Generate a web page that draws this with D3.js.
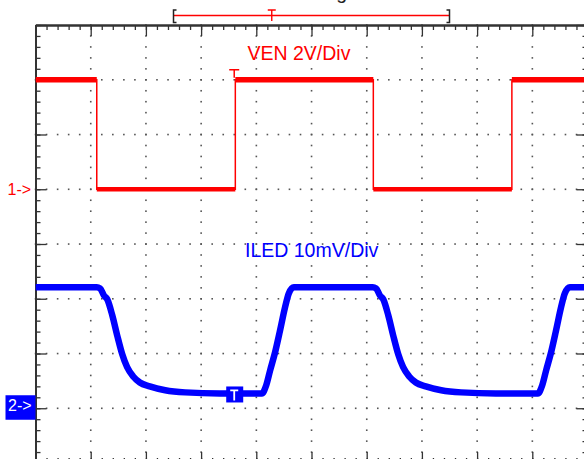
<!DOCTYPE html>
<html>
<head>
<meta charset="utf-8">
<script src="https://cdn.jsdelivr.net/npm/d3@7"></script>
<style>
html,body{margin:0;padding:0;background:#fff;}
svg{display:block;font-family:"Liberation Sans",Arial,sans-serif;}
</style>
</head>
<body>
<svg id="chart" width="584" height="459"></svg>
<script>
// ---- data (time in divisions, 10 div across) ----
const venTime  = [0, 1.11, 1.11, 3.62, 3.62, 6.12, 6.12, 8.63, 8.63, 10];
const venVolts = [4, 4, 0, 0, 4, 4, 0, 0, 4, 4];

const iledTime = [0, 1.11, 1.17, 1.24, 1.30, 1.39, 1.48, 1.57, 1.66, 1.77, 1.89, 2.07, 2.35, 2.71, 3.34,
                  4.10, 4.18, 4.25, 4.34, 4.43, 4.52, 4.59, 4.68,
                  6.11, 6.17, 6.24, 6.30, 6.39, 6.48, 6.57, 6.66, 6.77, 6.89, 7.07, 7.35, 7.71, 8.34,
                  9.10, 9.18, 9.25, 9.34, 9.43, 9.52, 9.59, 9.68, 10];
const iledMv   = [22.1, 22.1, 21.9, 20.6, 19.9, 17.0, 13.3, 9.9, 7.5, 5.8, 4.7, 4.0, 3.3, 2.9, 2.7,
                  2.7, 4.2, 6.9, 10.2, 14.2, 18.4, 21.0, 22.1,
                  22.1, 21.9, 20.6, 19.9, 17.0, 13.3, 9.9, 7.5, 5.8, 4.7, 4.0, 3.3, 2.9, 2.7,
                  2.7, 4.2, 6.9, 10.2, 14.2, 18.4, 21.0, 22.1, 22.1];

const ch1Label = "VEN 2V/Div";
const ch2Label = "ILED 10mV/Div";
const ch1Marker = "1->";
const ch2Marker = "2->";
const titleText = "PWM Dimming";
const ch1Offset = 1, ch1Scale = 2;     // div, V/div
const ch2Offset = -3, ch2Scale = 10;   // div, mV/div
const triggerTime = 3.6;
const bracketStart = 2.5, bracketT = 4.28, bracketEnd = 7.5;

// ---- scales ----
const x = d3.scaleLinear().domain([0, 10]).range([35.5, 587.5]);
const y = d3.scaleLinear().domain([-4, 4]).range([463, 25]);
const xMajor = d3.range(0, 11, 1);
const xMinor = d3.range(0, 10.01, 0.2);
const yMajor = d3.range(-4, 5, 1);
const yMinor = d3.range(-4, 4.01, 0.2);

const svg = d3.select("#chart");

// grid dots
const dots = svg.append("g").attr("fill", "#555");
xMajor.slice(1, 10).forEach(k => {
  yMinor.forEach(v => dots.append("rect").attr("x", x(k) - 0.75).attr("y", y(v) - 0.75).attr("width", 1.6).attr("height", 1.6));
});
yMajor.slice(1, 8).forEach(j => {
  xMinor.forEach(t => dots.append("rect").attr("x", x(t) - 0.75).attr("y", y(j) - 0.75).attr("width", 1.6).attr("height", 1.6));
});

// borders with ticks
function styleAxis(g) {
  g.select(".domain").attr("stroke", "#333").attr("stroke-width", 2);
  g.selectAll(".tick line").attr("stroke", "#333").attr("stroke-width", 1.3);
  g.selectAll("text").remove();
}
const borders = [
  [d3.axisBottom, x, xMinor, xMajor, `translate(0,${y(4)})`],
  [d3.axisTop, x, xMinor, xMajor, `translate(0,${y(-4)})`],
  [d3.axisRight, y, yMinor, yMajor, `translate(${x(0)},0)`],
  [d3.axisLeft, y, yMinor, yMajor, `translate(${x(10)},0)`]
];
borders.forEach(([fn, sc, minor, major, tr]) => {
  svg.append("g").attr("transform", tr).call(fn(sc).tickValues(minor).tickSize(5).tickSizeOuter(0)).call(styleAxis);
  svg.append("g").attr("transform", tr).call(fn(sc).tickValues(major).tickSize(11).tickSizeOuter(0)).call(styleAxis);
});

// clip
svg.append("clipPath").attr("id", "plot").append("rect")
  .attr("x", x(0)).attr("y", y(4)).attr("width", x(10) - x(0)).attr("height", y(-4) - y(4));

// channel 1 (VEN)
const venPts = venTime.map((t, i) => [t, ch1Offset + venVolts[i] / ch1Scale]);
const line = d3.line().x(d => x(d[0])).y(d => y(d[1]));
const trace = svg.append("g").attr("clip-path", "url(#plot)");
trace.append("path").datum(venPts).attr("d", line).attr("fill", "none").attr("stroke", "#ff0000").attr("stroke-width", 1.5);
for (let i = 0; i < venPts.length - 1; i++) {
  if (venVolts[i] === venVolts[i + 1]) {
    trace.append("path").datum([venPts[i], venPts[i + 1]]).attr("d", line)
      .attr("fill", "none").attr("stroke", "#ff0000").attr("stroke-width", venVolts[i] > 0 ? 5.5 : 4.5);
  }
}

// channel 2 (ILED)
const iledPts = iledTime.map((t, i) => [t, ch2Offset + iledMv[i] / ch2Scale]);
trace.append("path").datum(iledPts).attr("d", d3.line().x(d => x(d[0])).y(d => y(d[1])).curve(d3.curveMonotoneX))
  .attr("fill", "none").attr("stroke", "#0000ff").attr("stroke-width", 6.5).attr("stroke-linejoin", "round");

// trigger markers
const tx = x(triggerTime);
svg.append("path").attr("d", `M${tx - 5},${y(3) - 10}H${tx + 5}M${tx},${y(3) - 10}V${y(3) - 2}`)
  .attr("stroke", "#ff0000").attr("stroke-width", 1.5).attr("fill", "none");
const ty = y(ch2Offset + 2.7 / ch2Scale);
svg.append("rect").attr("x", tx - 8).attr("y", ty - 7).attr("width", 17).attr("height", 16).attr("fill", "#0000ff");
svg.append("path").attr("d", `M${tx - 4},${ty - 3}H${tx + 4}M${tx},${ty - 3}V${ty + 7}`)
  .attr("stroke", "#fff").attr("stroke-width", 1.8).attr("fill", "none");

// memory bracket at top
const by = 15.5;
svg.append("line").attr("x1", x(bracketStart)).attr("x2", x(bracketEnd)).attr("y1", by).attr("y2", by)
  .attr("stroke", "#ff0000").attr("stroke-width", 1.4);
svg.append("path").attr("d", `M${x(bracketStart) + 3},${by - 5.5}H${x(bracketStart)}V${by + 7}H${x(bracketStart) + 3}`)
  .attr("stroke", "#222").attr("stroke-width", 1.5).attr("fill", "none");
svg.append("path").attr("d", `M${x(bracketEnd) - 3},${by - 5.5}H${x(bracketEnd)}V${by + 7}H${x(bracketEnd) - 3}`)
  .attr("stroke", "#222").attr("stroke-width", 1.5).attr("fill", "none");
svg.append("path").attr("d", `M${x(bracketT) - 4},${by - 5.5}H${x(bracketT) + 4}M${x(bracketT)},${by - 5.5}V${by + 5.5}`)
  .attr("stroke", "#ff0000").attr("stroke-width", 1.4).attr("fill", "none");

// title (cut off at top, as in the reference)
svg.append("text").attr("x", 347).attr("y", -1.5).attr("text-anchor", "end")
  .attr("font-size", 19.5).attr("fill", "#222").text(titleText);

// channel labels
svg.append("text").attr("x", 247.5).attr("y", 60).attr("font-size", 19.5).attr("fill", "#ff0000").text(ch1Label);
svg.append("text").attr("x", 245).attr("y", 257).attr("font-size", 19.5).attr("fill", "#0000ff").text(ch2Label);

// ground markers
svg.append("text").attr("x", 7.5).attr("y", y(ch1Offset) + 6).attr("font-size", 16).attr("fill", "#ff0000").text(ch1Marker);
svg.append("rect").attr("x", 5.5).attr("y", y(ch2Offset) - 13).attr("width", 30).attr("height", 24.5).attr("fill", "#0000ff");
svg.append("text").attr("x", 8).attr("y", y(ch2Offset) + 3).attr("font-size", 16).attr("fill", "#fff").text(ch2Marker);
</script>
</body>
</html>
